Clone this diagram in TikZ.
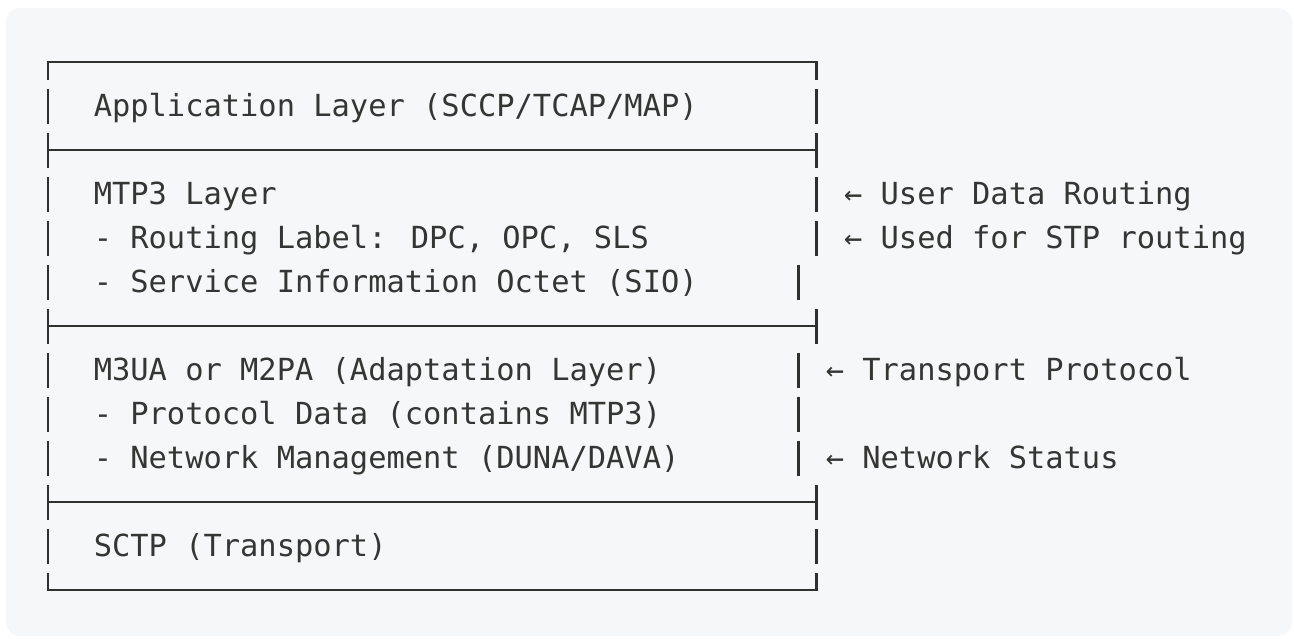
\documentclass[tikz,border=0pt]{standalone}
\usepackage{fontspec}
\newfontfamily\codefont{DejaVu Sans Mono}
\usetikzlibrary{calc, positioning}
\definecolor{panelgray}{HTML}{F6F7F9}
\definecolor{inkgray}{HTML}{353533}

\begin{document}
\begin{tikzpicture}[x=1pt, y=-1pt,
        every node/.style = {inner sep=0pt, outer sep=0pt, anchor=base west,
                text=inkgray, font=\codefont\fontsize{30.4pt}{44pt}\selectfont},
        rule/.style = {draw=inkgray!90!black, line width=2.4pt}]

    \useasboundingbox (0,0) rectangle (1294,638);
    \fill [panelgray, rounded corners=14pt] (6,8) rectangle (1292,636);

    \def\xo{38.85}  % left edge of column 0
    \def\cw{18.3}   % column width
    \def\lh{44}     % row height

    % Layers
    \node (app)  at ({\xo+3*\cw}, 116.5) {Application Layer (SCCP/TCAP/MAP)};
    \node (mtp)  at ({\xo+3*\cw}, 204.5) {MTP3 Layer};
    \node (rlab) at ({\xo+3*\cw}, 248.5) {- Routing Label: DPC, OPC, SLS};
    \node (sio)  at ({\xo+3*\cw}, 292.5) {- Service Information Octet (SIO)};
    \node (ada)  at ({\xo+3*\cw}, 380.5) {M3UA or M2PA (Adaptation Layer)};
    \node (pdat) at ({\xo+3*\cw}, 424.5) {- Protocol Data (contains MTP3)};
    \node (nmgt) at ({\xo+3*\cw}, 468.5) {- Network Management (DUNA/DAVA)};
    \node (sctp) at ({\xo+3*\cw}, 556.5) {SCTP (Transport)};

    % Notes
    \node (udr)  at ({\xo+44*\cw}, 204.5) {← User Data Routing};
    \node (stpr) at ({\xo+44*\cw}, 248.5) {← Used for STP routing};
    \node (trp)  at ({\xo+43*\cw}, 380.5) {← Transport Protocol};
    \node (nst)  at ({\xo+43*\cw}, 468.5) {← Network Status};

    %% frame
    \coordinate (tl) at ({\xo+0.5*\cw}, 62);
    \coordinate (tr) at ({\xo+42.5*\cw}, 62);
    \coordinate (bl) at ({\xo+0.5*\cw}, 590);
    \coordinate (br) at ({\xo+42.5*\cw}, 590);

    \draw [rule] ([yshift=-17.5pt] tl) |- (tr) -- ([yshift=-17.5pt] tr);
    \draw [rule] ([yshift=17.5pt] bl) |- (br) -- ([yshift=17.5pt] br);
    \foreach \r in {2,6,10}
        \draw [rule] ($(tl)+(0,\r*\lh)$) -- ($(tr)+(0,\r*\lh)$);
    \foreach \r in {1,...,11}
        \draw [rule] ($(tl)+(0,\r*\lh-17.5)$) -- ($(tl)+(0,\r*\lh+17.5)$);
    \foreach \r in {1,2,3,4,6,10,11}
        \draw [rule] ($(tr)+(0,\r*\lh-17.5)$) -- ($(tr)+(0,\r*\lh+17.5)$);
    \foreach \r in {5,7,8,9}
        \draw [rule] ($(tr)+(-\cw,\r*\lh-17.5)$) -- ($(tr)+(-\cw,\r*\lh+17.5)$);
\end{tikzpicture}
\end{document}
